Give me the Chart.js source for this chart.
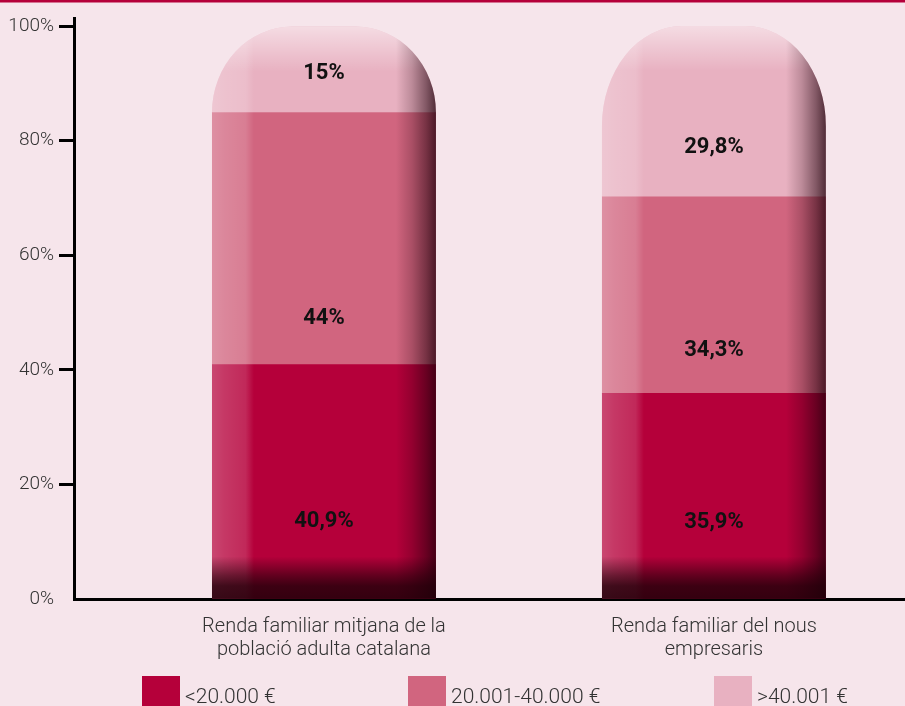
<!DOCTYPE html>
<html><head><meta charset="utf-8">
<script src="https://cdn.jsdelivr.net/npm/chart.js@4.4.0/dist/chart.umd.min.js"></script>
<style>html,body{margin:0;padding:0;background:#f6e5eb;overflow:hidden}canvas{display:block}</style>
</head><body>
<canvas id="c" width="905" height="706"></canvas>
<script>
// ---- data ----
const categories = [['Renda familiar mitjana de la', 'població adulta catalana'], ['Renda familiar del nous', 'empresaris']];
const seriesNames = ['<20.000 €', '20.001-40.000 €', '>40.001 €'];
const lowIncome = [40.9, 35.9];
const midIncome = [44, 34.3];
const highIncome = [15, 29.8];
const yTicks = [0, 20, 40, 60, 80, 100];

// ---- styles ----
const colors = ['#b5003a', '#d1657f', '#e8b1c1'];
const FONT = 'Roboto, "DejaVu Sans", sans-serif';
const BG = '#f6e5eb';
const labelFractions = [[0.33, 0.184, 0.45], [0.373, 0.216, 0.29]];
const legendX = [142, 408, 714];

function barBounds(chart) {
  const metas = chart.getSortedVisibleDatasetMetas();
  const n = chart.data.datasets[0].data.length;
  const out = [];
  for (let i = 0; i < n; i++) {
    let L = Infinity, R = -Infinity, T = Infinity, B = -Infinity, topH = 0;
    metas.forEach(m => {
      const el = m.data[i]; if (!el) return;
      const p = el.getProps(['x', 'y', 'base', 'width'], true);
      L = Math.min(L, p.x - p.width / 2); R = Math.max(R, p.x + p.width / 2);
      if (Math.min(p.y, p.base) < T) { T = Math.min(p.y, p.base); topH = Math.abs(p.base - p.y); }
      B = Math.max(B, p.y, p.base);
    });
    out.push({ L, R, T, B, topH });
  }
  return out;
}
function capPath(ctx, b) {
  const rx = 80, ry = Math.min(100, b.topH);
  ctx.moveTo(b.L, b.B);
  ctx.lineTo(b.L, b.T + ry);
  ctx.ellipse(b.L + rx, b.T + ry, rx, ry, 0, Math.PI, 1.5 * Math.PI);
  ctx.lineTo(b.R - rx, b.T);
  ctx.ellipse(b.R - rx, b.T + ry, rx, ry, 0, 1.5 * Math.PI, 2 * Math.PI);
  ctx.lineTo(b.R, b.B);
  ctx.closePath();
}

const shapePlugin = {
  id: 'shape',
  beforeDraw(chart) {
    const ctx = chart.ctx;
    ctx.save();
    ctx.fillStyle = BG; ctx.fillRect(0, 0, chart.width, chart.height);
    ctx.fillStyle = '#b5003a'; ctx.fillRect(0, 0, chart.width, 2.5);
    ctx.restore();
  },
  beforeDatasetsDraw(chart) {
    const ctx = chart.ctx;
    ctx.save();
    ctx.beginPath();
    barBounds(chart).forEach(b => capPath(ctx, b));
    ctx.clip();
  },
  afterDatasetsDraw(chart) {
    const ctx = chart.ctx;
    barBounds(chart).forEach(b => {
      const { L, R, T, B } = b;
      let g = ctx.createLinearGradient(0, T, 0, T + 45);
      g.addColorStop(0, 'rgba(255,255,255,0.55)');
      g.addColorStop(1, 'rgba(255,255,255,0)');
      ctx.fillStyle = g; ctx.fillRect(L, T, R - L, 45);
      g = ctx.createLinearGradient(L, 0, L + 42, 0);
      g.addColorStop(0, 'rgba(255,255,255,0.28)');
      g.addColorStop(0.3, 'rgba(255,255,255,0.22)');
      g.addColorStop(0.8, 'rgba(255,255,255,0.16)');
      g.addColorStop(1, 'rgba(255,255,255,0)');
      ctx.fillStyle = g; ctx.fillRect(L, T, 42, B - T);
      g = ctx.createLinearGradient(R - 40, 0, R, 0);
      g.addColorStop(0, 'rgba(30,0,10,0)');
      g.addColorStop(0.4, 'rgba(30,0,10,0.22)');
      g.addColorStop(0.75, 'rgba(30,0,10,0.5)');
      g.addColorStop(1, 'rgba(30,0,10,0.75)');
      ctx.fillStyle = g; ctx.fillRect(R - 40, T, 40, B - T);
      g = ctx.createLinearGradient(0, B - 42, 0, B);
      g.addColorStop(0, 'rgba(30,0,8,0)');
      g.addColorStop(0.45, 'rgba(30,0,8,0.55)');
      g.addColorStop(0.7, 'rgba(30,0,8,0.8)');
      g.addColorStop(1, 'rgba(30,0,8,0.85)');
      ctx.fillStyle = g; ctx.fillRect(L, B - 42, R - L, 42);
    });
    ctx.restore();
  },
  afterDraw(chart) {
    const ctx = chart.ctx;
    const ys = chart.scales.y;
    ctx.save();
    // value labels
    ctx.fillStyle = '#111';
    ctx.font = 'bold 22px ' + FONT;
    ctx.textAlign = 'center'; ctx.textBaseline = 'middle';
    const n = chart.data.datasets[0].data.length;
    for (let i = 0; i < n; i++) {
      let start = 0;
      chart.data.datasets.forEach((ds, d) => {
        const v = ds.data[i].y;
        const el = chart.getDatasetMeta(d).data[i];
        const y = ys.getPixelForValue(start + v * labelFractions[i][d]);
        ctx.fillText(String(v).replace('.', ',') + '%', el.x, y);
        start += v;
      });
    }
    // legend
    ctx.font = '300 21px ' + FONT;
    ctx.textAlign = 'left'; ctx.textBaseline = 'alphabetic';
    chart.data.datasets.forEach((ds, d) => {
      const x = legendX[d];
      ctx.fillStyle = ds.backgroundColor;
      ctx.fillRect(x, 676, 38, 32);
      ctx.fillStyle = '#333';
      ctx.fillText(ds.label, x + 43, 703);
    });
    ctx.restore();
  }
};

const seriesValues = [lowIncome, midIncome, highIncome];
const datasets = seriesValues.map((vals, d) => ({
  label: seriesNames[d],
  data: vals.map((v, i) => ({ x: i, y: v })),
  backgroundColor: colors[d],
  borderWidth: 0,
  barThickness: 224
}));

new Chart(document.getElementById('c'), {
  type: 'bar',
  data: { datasets },
  options: {
    responsive: false,
    animation: false,
    devicePixelRatio: 1,
    layout: { padding: { top: 18, right: 0, bottom: 37, left: 0 } },
    plugins: { legend: { display: false }, tooltip: { enabled: false } },
    scales: {
      x: {
        type: 'linear', stacked: true, offset: false, min: -0.641, max: 1.49,
        afterBuildTicks: s => { s.ticks = categories.map((c, i) => ({ value: i })); },
        afterFit: s => { s.height = 70; },
        ticks: {
          callback: v => categories[v], autoSkip: false, maxRotation: 0,
          font: { family: FONT, size: 20, weight: '300', lineHeight: 1.15 },
          color: '#333', padding: 16
        },
        grid: { display: false, drawTicks: false, offset: false },
        border: { display: true, color: '#000', width: 3 }
      },
      y: {
        stacked: true, min: 0, max: 101.4,
        afterBuildTicks: s => { s.ticks = yTicks.map(v => ({ value: v })); },
        afterFit: s => { s.width = 74; },
        ticks: {
          callback: v => v + '%',
          font: { family: FONT, size: 19, weight: '300' },
          color: '#333', padding: 5
        },
        grid: {
          display: true, drawOnChartArea: false, drawTicks: true, tickLength: 15, tickWidth: 3,
          tickColor: c => (c.tick && c.tick.value === 0) ? 'rgba(0,0,0,0)' : '#000'
        },
        border: { display: true, color: '#000', width: 3 }
      }
    }
  },
  plugins: [shapePlugin]
});
</script>
</body></html>
